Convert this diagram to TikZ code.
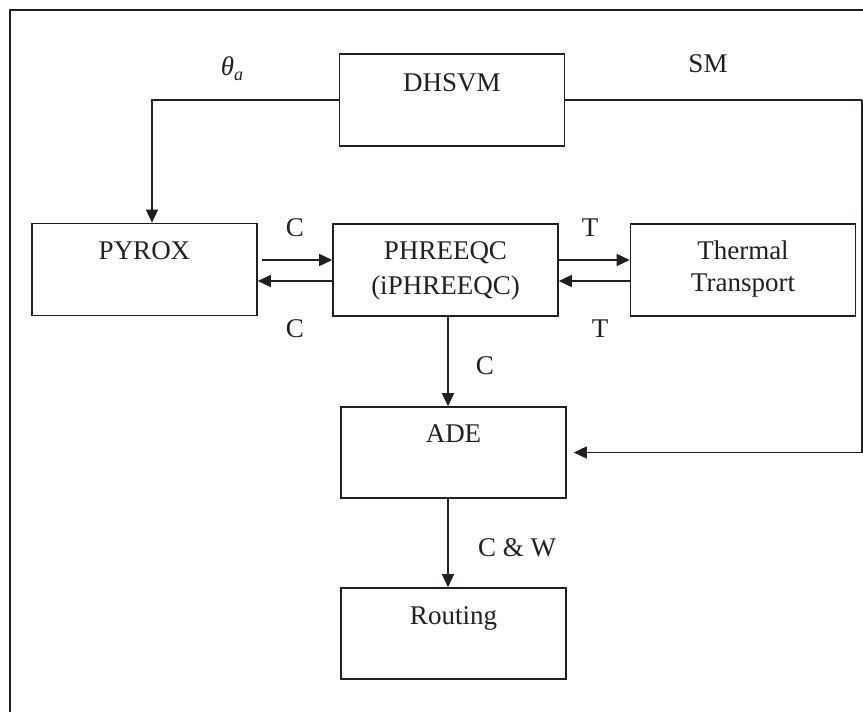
\documentclass[tikz,border=0pt]{standalone}
\usepackage{fontspec}
\setmainfont{Liberation Serif}
\usetikzlibrary{arrows.meta}
\definecolor{ink}{HTML}{231F20}
\begin{document}
\begin{tikzpicture}[x=1pt,y=-1pt,
  every node/.style={font=\fontsize{27}{32}\selectfont, text=ink},
  box/.style={draw=ink, line width=1.6pt, rectangle, inner sep=0pt, minimum width=225pt, minimum height=92pt},
  txt/.style={anchor=base, inner sep=0pt},
  arr/.style={draw=ink, line width=1.5pt, -{Triangle[length=13pt,width=12pt]}},
  conn/.style={draw=ink, line width=1.5pt},
  frame/.style={draw=ink, line width=2.2pt}]
\useasboundingbox (0,0) rectangle (863,712);
\fill[white] (0,0) rectangle (863,712);
\draw[frame] (10,712) -- (10,10) -- (863,10);

% boxes
\node[box] (dhsvm) at (452,100) {};
\node[box] (pyrox) at (144.5,269.5) {};
\node[box] (phreeqc) at (445.5,270) {};
\node[box] (thermal) at (743,270) {};
\node[box, minimum height=91pt] (ade) at (453.5,452.5) {};
\node[box, minimum height=91pt] (routing) at (453.5,633.5) {};

% box texts
\node[txt] (tdhsvm) at (452,91) {DHSVM};
\node[txt] (tpyrox) at (144.5,259) {PYROX};
\node[txt] (tphr1) at (445.5,259) {PHREEQC};
\node[txt] (tphr2) at (445.5,294) {(iPHREEQC)};
\node[txt] (tth1) at (743,259) {Thermal};
\node[txt] (tth2) at (743,291) {Transport};
\node[txt] (tade) at (453.5,442) {ADE};
\node[txt] (trout) at (453.5,624) {Routing};

% connectors
\draw[arr] (dhsvm.west) -| ([xshift=7.5pt]pyrox.north);
\coordinate (smc) at (862,100);
\draw[conn] (dhsvm.east) -- (smc);
\draw[arr] (smc) |- ([xshift=7pt]ade.east);

\draw[arr] ([xshift=4pt,yshift=9.5pt]pyrox.east) -- ([yshift=10pt]phreeqc.west);
\draw[arr] ([yshift=-11pt]phreeqc.west) -- ([yshift=-11.5pt]pyrox.east);
\draw[arr] ([yshift=10pt]phreeqc.east) -- ([yshift=10pt]thermal.west);
\draw[arr] ([yshift=-11pt]thermal.west) -- ([yshift=-11pt]phreeqc.east);

\draw[arr] ([xshift=2.5pt]phreeqc.south) -- ([xshift=2.5pt]phreeqc.south |- ade.north);
\draw[arr] ([xshift=-5.5pt]ade.south) -- ([xshift=-5.5pt]routing.north);

% connector labels
\node[txt] (ltheta) at (232,75) {\itshape θ\raisebox{-0.22em}{\fontsize{18}{20}\selectfont a}};
\node[txt] (lsm) at (708,72) {SM};
\node[txt] (lc1) at (295,236) {C};
\node[txt] (lc2) at (295,337) {C};
\node[txt] (lt1) at (590,236) {T};
\node[txt] (lt2) at (600,337) {T};
\node[txt] (lc3) at (485,374) {C};
\node[txt] (lcw) at (517,556) {C \& W};
\end{tikzpicture}
\end{document}
